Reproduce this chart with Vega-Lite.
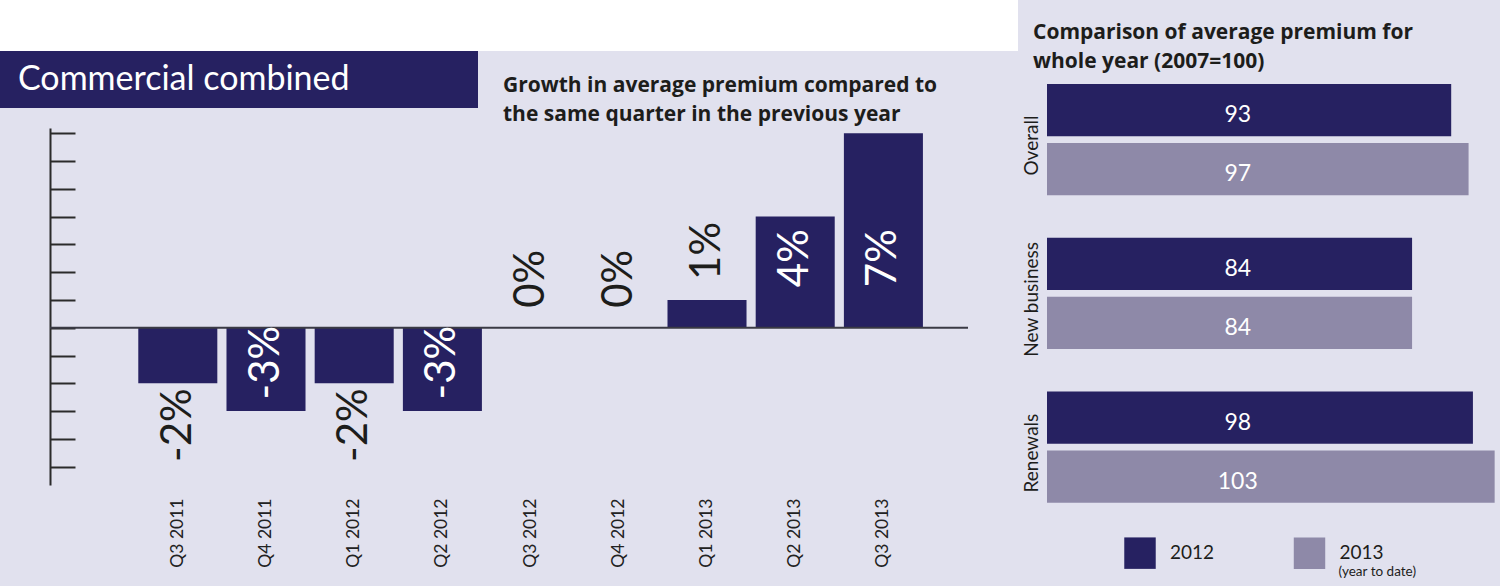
{
  "$schema": "https://vega.github.io/schema/vega-lite/v6.json",
  "background": "#e1e1ee",
  "padding": 0,
  "spacing": 0,
  "config": {
    "view": {"stroke": null},
    "font": "Lato",
    "axis": {"grid": false}
  },
  "datasets": {
    "growth": [
      {"q": "Q3 2011", "v": -2, "label": "-2%"},
      {"q": "Q4 2011", "v": -3, "label": "-3%"},
      {"q": "Q1 2012", "v": -2, "label": "-2%"},
      {"q": "Q2 2012", "v": -3, "label": "-3%"},
      {"q": "Q3 2012", "v": 0, "label": "0%"},
      {"q": "Q4 2012", "v": 0, "label": "0%"},
      {"q": "Q1 2013", "v": 1, "label": "1%"},
      {"q": "Q2 2013", "v": 4, "label": "4%"},
      {"q": "Q3 2013", "v": 7, "label": "7%"}
    ],
    "premium": [
      {"cat": "Overall", "year": "2012", "val": 93},
      {"cat": "Overall", "year": "2013", "val": 97},
      {"cat": "New business", "year": "2012", "val": 84},
      {"cat": "New business", "year": "2013", "val": 84},
      {"cat": "Renewals", "year": "2012", "val": 98},
      {"cat": "Renewals", "year": "2013", "val": 103}
    ],
    "legend": [
      {"year": "2012", "note": ""},
      {"year": "2013", "note": "(year to date)"}
    ]
  },
  "hconcat": [
    {
      "spacing": 0,
      "bounds": "flush",
      "vconcat": [
        {
          "width": 1018,
          "height": 51,
          "view": {"fill": "#ffffff", "stroke": null},
          "data": {"values": [{}]},
          "mark": {"type": "text"},
          "encoding": {"text": {"value": ""}}
        },
        {
          "spacing": 20,
          "bounds": "flush",
          "vconcat": [
            {
              "width": 478,
              "height": 57,
              "view": {"fill": "#262161", "stroke": null},
              "title": {
                "text": "Commercial combined",
                "anchor": "start",
                "frame": "group",
                "dx": 18,
                "offset": -46,
                "fontSize": 34,
                "font": "Lato",
                "fontWeight": "normal",
                "color": "#ffffff"
              },
              "data": {"values": [{}]},
              "mark": {"type": "text"},
              "encoding": {"text": {"value": ""}}
            },
            {
              "spacing": 0,
              "bounds": "flush",
              "hconcat": [
                {
                  "width": 50,
                  "height": 357,
                  "data": {"values": [{}]},
                  "mark": {"type": "text"},
                  "encoding": {"text": {"value": ""}}
                },
                {
                  "width": 918,
                  "height": 357,
                  "data": {"name": "growth"},
                  "title": {
                    "text": ["Growth in average premium compared to", "the same quarter in the previous year"],
                    "anchor": "start",
                    "frame": "group",
                    "dx": 453,
                    "offset": 3,
                    "fontSize": 21,
                    "font": "Open Sans",
                    "fontWeight": "bold",
                    "color": "#1d1d1b",
                    "lineHeight": 29
                  },
                  "layer": [
                    {
                      "mark": {"type": "bar", "color": "#262161"},
                      "encoding": {
                        "x": {
                          "field": "q",
                          "type": "nominal",
                          "sort": null,
                          "scale": {"paddingInner": 0.104, "paddingOuter": 0.756, "align": 0.662},
                          "axis": {
                            "title": null,
                            "domain": false,
                            "ticks": false,
                            "labelAngle": -90,
                            "labelAlign": "right",
                            "labelBaseline": "middle",
                            "labelPadding": 13,
                            "labelFontSize": 17.5,
                            "labelColor": "#222222",
                            "labelFont": "Lato"
                          }
                        },
                        "y": {
                          "field": "v",
                          "type": "quantitative",
                          "scale": {"domain": [-5.66, 7.19], "nice": false},
                          "axis": {
                            "title": null,
                            "values": [-5, -4, -3, -2, -1, 0, 1, 2, 3, 4, 5, 6, 7],
                            "labels": false,
                            "labelOverlap": false,
                            "tickCount": 13,
                            "ticks": true,
                            "tickSize": -25,
                            "tickWidth": 2,
                            "tickColor": "#2b2b2b",
                            "domainColor": "#2b2b2b",
                            "domainWidth": 2,
                            "grid": false
                          }
                        }
                      }
                    },
                    {
                      "data": {"values": [{}]},
                      "mark": {"type": "rule", "color": "#3a3a44", "strokeWidth": 2},
                      "encoding": {"y": {"datum": 0, "type": "quantitative"}}
                    },
                    {
                      "transform": [{"filter": "datum.v < 0 && datum.v > -2.5"}],
                      "mark": {"type": "text", "angle": 270, "align": "right", "baseline": "middle", "dx": -5, "fontSize": 42, "font": "Lato", "color": "#1d1d1b"},
                      "encoding": {
                        "x": {"field": "q", "type": "nominal", "sort": null},
                        "y": {"field": "v", "type": "quantitative"},
                        "text": {"field": "label"}
                      }
                    },
                    {
                      "transform": [{"filter": "datum.v <= -2.5"}],
                      "mark": {"type": "text", "angle": 270, "align": "right", "baseline": "middle", "dx": 2, "fontSize": 42, "font": "Lato", "color": "#ffffff"},
                      "encoding": {
                        "x": {"field": "q", "type": "nominal", "sort": null},
                        "y": {"datum": 0, "type": "quantitative"},
                        "text": {"field": "label"}
                      }
                    },
                    {
                      "transform": [{"filter": "datum.v >= 0 && datum.v < 2"}],
                      "mark": {"type": "text", "angle": 270, "align": "left", "baseline": "middle", "dx": 20, "fontSize": 42, "font": "Lato", "color": "#1d1d1b"},
                      "encoding": {
                        "x": {"field": "q", "type": "nominal", "sort": null},
                        "y": {"field": "v", "type": "quantitative"},
                        "text": {"field": "label"}
                      }
                    },
                    {
                      "transform": [{"filter": "datum.v >= 2"}],
                      "mark": {"type": "text", "angle": 270, "align": "right", "baseline": "middle", "fontSize": 42, "font": "Lato", "color": "#ffffff"},
                      "encoding": {
                        "x": {"field": "q", "type": "nominal", "sort": null},
                        "y": {"datum": 3.55, "type": "quantitative"},
                        "text": {"field": "label"}
                      }
                    }
                  ]
                }
              ]
            }
          ]
        }
      ]
    },
    {
      "spacing": 17,
      "bounds": "flush",
      "vconcat": [
        {
          "width": 482,
          "height": 67,
          "data": {"values": [{}]},
          "mark": {"type": "text"},
          "encoding": {"text": {"value": ""}}
        },
        {
          "width": 482,
          "height": 418.7,
          "data": {"name": "premium"},
          "title": {
            "text": ["Comparison of average premium for", "whole year (2007=100)"],
            "anchor": "start",
            "frame": "group",
            "dx": 15,
            "offset": 12,
            "fontSize": 21,
            "font": "Open Sans",
            "fontWeight": "bold",
            "color": "#1d1d1b",
            "lineHeight": 29
          },
          "encoding": {
            "y": {
              "field": "cat",
              "type": "nominal",
              "sort": ["Overall", "New business", "Renewals"],
              "scale": {"paddingInner": 0.2767, "paddingOuter": 0},
              "axis": {
                "title": null,
                "domain": false,
                "ticks": false,
                "labelAngle": -90,
                "labelAlign": "center",
                "labelBaseline": "top",
                "labelPadding": -4,
                "labelOffset": 6,
                "labelFontSize": 19,
                "labelColor": "#1d1d1b",
                "labelFont": "Lato"
              }
            },
            "yOffset": {"field": "year", "type": "nominal", "scale": {"paddingInner": 0.112, "paddingOuter": 0}}
          },
          "layer": [
            {
              "mark": {"type": "bar"},
              "encoding": {
                "x": {"field": "val", "type": "quantitative", "stack": null, "scale": {"domain": [-6.673, 104.23], "nice": false, "zero": false}, "axis": null},
                "color": {"field": "year", "type": "nominal", "scale": {"domain": ["2012", "2013"], "range": ["#262161", "#8e89a8"]}, "legend": null}
              }
            },
            {
              "mark": {"type": "text", "color": "#ffffff", "fontSize": 23, "font": "Lato", "baseline": "middle", "dy": 5},
              "encoding": {
                "x": {"datum": 43.9, "type": "quantitative"},
                "text": {"field": "val", "type": "quantitative"}
              }
            }
          ]
        },
        {
          "width": 482,
          "height": 66.3,
          "data": {"name": "legend"},
          "encoding": {
            "x": {"field": "year", "type": "nominal", "scale": {"type": "point", "padding": 0.9218, "align": 0.3904}, "axis": null}
          },
          "layer": [
            {
              "mark": {"type": "point", "shape": "square", "filled": true, "size": 990, "opacity": 1},
              "encoding": {
                "color": {"field": "year", "type": "nominal", "scale": {"domain": ["2012", "2013"], "range": ["#262161", "#8e89a8"]}, "legend": null}
              }
            },
            {
              "mark": {"type": "text", "align": "left", "baseline": "middle", "dx": 30, "fontSize": 19, "font": "Lato", "color": "#1d1d1b"},
              "encoding": {"text": {"field": "year"}}
            },
            {
              "mark": {"type": "text", "align": "left", "baseline": "middle", "dx": 29, "dy": 19, "fontSize": 13.5, "font": "Lato", "color": "#1d1d1b"},
              "encoding": {"text": {"field": "note"}}
            }
          ]
        }
      ]
    }
  ]
}
